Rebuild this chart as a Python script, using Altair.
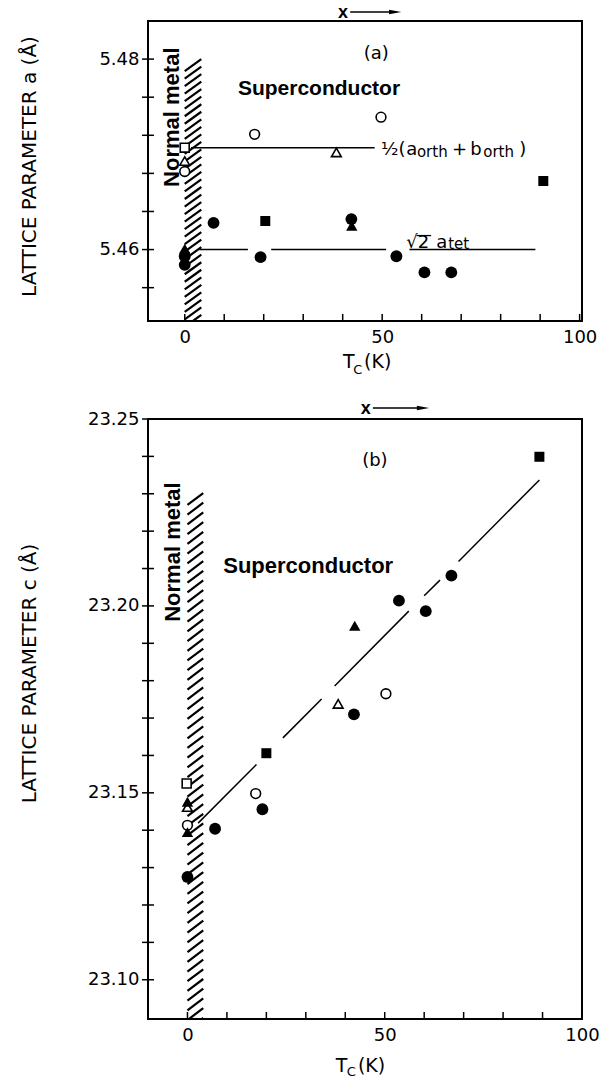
import altair as alt
import pandas as pd

FONT = "DejaVu Sans"
BOLD = "Liberation Sans"

# ---------------- Panel (a): lattice parameter a vs Tc ----------------
a_tc = [17.7, 49.7, 0.0, 38.4, 0.0, 0.0, 90.8, 7.3, 20.4, 42.3, 42.2, 19.2, 53.6, 60.7, 67.5, 0.0, 0.0, 0.0]
a_lat = [5.4721, 5.4739, 5.4707, 5.4702, 5.4693, 5.4682, 5.4672, 5.4628, 5.4630, 5.4625, 5.4632,
         5.4592, 5.4593, 5.4576, 5.4576, 5.4601, 5.4593, 5.4584]
a_marker = ["open circle", "open circle", "open square", "open triangle", "open triangle", "open circle",
            "filled square", "filled circle", "filled square", "filled triangle", "filled circle",
            "filled circle", "filled circle", "filled circle", "filled circle", "filled triangle",
            "filled circle", "filled circle"]
# reference lines (1/2(a_orth+b_orth) and sqrt2 a_tet), drawn as broken segments
a_seg_x1 = [1.6, 3.7, 21.9, 56.9]
a_seg_x2 = [48.1, 16.0, 51.0, 88.8]
a_seg_y1 = [5.4707, 5.4600, 5.4600, 5.4600]
a_seg_y2 = [5.4707, 5.4600, 5.4600, 5.4600]

# ---------------- Panel (b): lattice parameter c vs Tc ----------------
b_tc = [89.2, 66.9, 53.6, 60.4, 42.4, 50.3, 38.2, 42.2, 20.0, -0.2, 17.3, 0.0, 0.0, 19.0, 0.0, 0.0, 7.0, 0.0]
b_lat = [23.2399, 23.2081, 23.2014, 23.1986, 23.1947, 23.1765, 23.1738, 23.1710, 23.1606, 23.1525,
         23.1498, 23.1476, 23.1462, 23.1456, 23.1413, 23.1395, 23.1404, 23.1275]
b_marker = ["filled square", "filled circle", "filled circle", "filled circle", "filled triangle",
            "open circle", "open triangle", "filled circle", "filled square", "open square",
            "open circle", "filled triangle", "open triangle", "filled circle", "open circle",
            "filled triangle", "filled circle", "filled circle"]
b_seg_x1 = [2.7, 24.2, 37.3, 60.0, 68.7]
b_seg_x2 = [17.5, 34.0, 56.1, 64.0, 89.2]
b_seg_y1 = [23.1419, 23.1647, 23.1786, 23.2027, 23.2119]
b_seg_y2 = [23.1576, 23.1751, 23.1986, 23.2069, 23.2337]

# ---------------- axes ----------------
x_tick_values = [0, 10, 20, 30, 40, 50, 60, 70, 80, 90, 100]
x_label_values = [0, 50, 100]
a_tick_values = [5.456, 5.460, 5.464, 5.468, 5.472, 5.476, 5.480]
a_label_values = [5.46, 5.48]
b_tick_values = [23.10, 23.11, 23.12, 23.13, 23.14, 23.15, 23.16, 23.17, 23.18, 23.19,
                 23.20, 23.21, 23.22, 23.23, 23.24, 23.25]
b_label_values = [23.10, 23.15, 23.20, 23.25]

# ---------------- annotations ----------------
a_main_text = ["½(", "a", "+", "b", ")", "√2", "a"]
a_main_x = [49.7, 56.1, 67.7, 72.3, 84.7, 56.1, 63.7]
a_main_y = [5.46995, 5.46995, 5.46995, 5.46995, 5.46995, 5.4602, 5.4602]
a_sub_text = ["orth", "orth", "tet"]
a_sub_x = [58.8, 75.6, 66.7]
a_sub_y = [5.46974, 5.46974, 5.46007]
a_bar = {"x1": [58.7], "x2": [62.4], "y": [5.46147]}

STYLES = [
    ("open circle", dict(shape="circle", filled=True, fill="white", stroke="black", strokeWidth=1.6, size=95, opacity=1)),
    ("open square", dict(shape="square", filled=True, fill="white", stroke="black", strokeWidth=1.6, size=80, opacity=1)),
    ("open triangle", dict(shape="triangle-up", filled=True, fill="white", stroke="black", strokeWidth=1.6, size=95, opacity=1)),
    ("filled triangle", dict(shape="triangle-up", filled=True, color="black", size=130, opacity=1)),
    ("filled square", dict(shape="square", filled=True, color="black", size=100, opacity=1)),
    ("filled circle", dict(shape="circle", filled=True, color="black", size=140, opacity=1)),
]

ARROW = "M-1,-0.35L1,0L-1,0.35Z"


def hatch(x0, x1, y_bottom, y_top, step, rise):
    rows = []
    y = y_top - rise
    while y > y_bottom - rise:
        rows.append({"hx": x0, "hy": y, "hx2": x1, "hy2": y + rise})
        y -= step
    return pd.DataFrame(rows)


def panel(cfg):
    W, H = cfg["W"], cfg["H"]
    xs = alt.Scale(domain=cfg["xdom"], nice=False, zero=False)
    ys = alt.Scale(domain=cfg["ydom"], nice=False, zero=False)

    x_axis = alt.Axis(values=x_label_values, format="d", ticks=False, tickSize=0, domain=False, grid=False,
                      labelFont=FONT, labelFontSize=18, labelPadding=7, labelColor="black",
                      labelFlush=False, title="")
    y_axis = alt.Axis(values=cfg["ylabels"], format=".2f", ticks=False, tickSize=0, domain=False, grid=False,
                      labelFont=FONT, labelFontSize=18, labelPadding=9, labelColor="black",
                      title=cfg["ytitle"], titleFont=FONT, titleFontSize=20, titleFontWeight="normal",
                      titleColor="black", titleAngle=270, titleX=-119, titleY=cfg["titleY"],
                      titleBaseline="middle", titleAlign="center")

    def X(f):
        return alt.X(f"{f}:Q", scale=xs, axis=x_axis)

    def Y(f):
        return alt.Y(f"{f}:Q", scale=ys, axis=y_axis)

    layers = []
    hd = hatch(*cfg["hatch"])
    layers.append(alt.Chart(hd).mark_rule(color="black", strokeWidth=2.2, clip=True).encode(
        x=X("hx"), y=Y("hy"), x2="hx2:Q", y2="hy2:Q"))
    layers.append(alt.Chart(pd.DataFrame({"v": cfg["yticks"]})).mark_rule(color="black", strokeWidth=1.5).encode(
        y=Y("v"), x=alt.value(-6), x2=alt.value(6)))
    layers.append(alt.Chart(pd.DataFrame({"t": x_tick_values})).mark_rule(color="black", strokeWidth=1.5).encode(
        x=X("t"), y=alt.value(H - 7), y2=alt.value(H)))
    seg = pd.DataFrame({"x1": cfg["sx1"], "x2": cfg["sx2"], "y1": cfg["sy1"], "y2": cfg["sy2"]})
    layers.append(alt.Chart(seg).mark_rule(color="black", strokeWidth=1.5).encode(
        x=X("x1"), y=Y("y1"), x2="x2:Q", y2="y2:Q"))

    pts = pd.DataFrame({"tc": cfg["tc"], "lat": cfg["lat"], "marker": cfg["marker"]})
    for name, style in STYLES:
        layers.append(alt.Chart(pts).transform_filter(alt.datum.marker == name).mark_point(**style).encode(
            x=X("tc"), y=Y("lat")))

    # panel letter, region labels
    layers.append(alt.Chart(pd.DataFrame({"x": [cfg["letter"][1]], "y": [cfg["letter"][2]], "t": [cfg["letter"][0]]}))
                  .mark_text(font=FONT, fontSize=18, color="black", align="center", baseline="middle")
                  .encode(x=X("x"), y=Y("y"), text="t:N"))
    layers.append(alt.Chart(pd.DataFrame({"x": [cfg["sc"][0]], "y": [cfg["sc"][1]], "t": ["Superconductor"]}))
                  .mark_text(font=BOLD, fontSize=cfg["scsize"], fontWeight="bold", color="black",
                             align="center", baseline="middle")
                  .encode(x=X("x"), y=Y("y"), text="t:N"))
    layers.append(alt.Chart(pd.DataFrame({"x": [cfg["nm"][0]], "y": [cfg["nm"][1]], "t": ["Normal metal"]}))
                  .mark_text(font=BOLD, fontSize=22, fontWeight="bold", color="black", angle=270,
                             align="center", baseline="middle")
                  .encode(x=X("x"), y=Y("y"), text="t:N"))

    # "x ->" above the frame
    xa = cfg["xarrow"]
    layers.append(alt.Chart(pd.DataFrame({"x": [xa[0]], "t": ["x"]}))
                  .mark_text(font=BOLD, fontSize=18, fontWeight="bold", color="black", align="center", baseline="middle")
                  .encode(x=X("x"), y=alt.value(xa[3] + 1), text="t:N"))
    layers.append(alt.Chart(pd.DataFrame({"x1": [xa[1]], "x2": [xa[2]]}))
                  .mark_rule(color="black", strokeWidth=1.5)
                  .encode(x=X("x1"), x2="x2:Q", y=alt.value(xa[3])))
    layers.append(alt.Chart(pd.DataFrame({"x": [xa[2]]}))
                  .mark_point(shape=ARROW, filled=True, color="black", size=150, opacity=1)
                  .encode(x=X("x"), y=alt.value(xa[3])))

    # x-axis title T_C(K)
    xt = cfg["xtitle"]
    layers.append(alt.Chart(pd.DataFrame({"x": [xt[0], xt[2]], "t": ["T", "(K)"]}))
                  .mark_text(font=FONT, fontSize=19, color="black", align="left", baseline="alphabetic")
                  .encode(x=X("x"), y=alt.value(xt[3]), text="t:N"))
    layers.append(alt.Chart(pd.DataFrame({"x": [xt[1]], "t": ["C"]}))
                  .mark_text(font=FONT, fontSize=13, color="black", align="left", baseline="alphabetic")
                  .encode(x=X("x"), y=alt.value(xt[4]), text="t:N"))

    if cfg.get("ann"):
        layers.append(alt.Chart(pd.DataFrame({"x": a_main_x, "y": a_main_y, "t": a_main_text}))
                      .mark_text(font=FONT, fontSize=18, color="black", align="left", baseline="alphabetic")
                      .encode(x=X("x"), y=Y("y"), text="t:N"))
        layers.append(alt.Chart(pd.DataFrame({"x": a_sub_x, "y": a_sub_y, "t": a_sub_text}))
                      .mark_text(font=FONT, fontSize=15, color="black", align="left", baseline="alphabetic")
                      .encode(x=X("x"), y=Y("y"), text="t:N"))
        layers.append(alt.Chart(pd.DataFrame(a_bar)).mark_rule(color="black", strokeWidth=1.3)
                      .encode(x=X("x1"), x2="x2:Q", y=Y("y")))

    return alt.layer(*layers).properties(width=W, height=H)


cfg_a = dict(W=434, H=300, xdom=[-9.3, 100.6], ydom=[5.4525, 5.4840],
             yticks=a_tick_values, ylabels=a_label_values, ytitle="LATTICE PARAMETER a (Å)", titleY=145,
             hatch=(0.0, 4.2, 5.4525, 5.4800, 0.00079, 0.00126),
             sx1=a_seg_x1, sx2=a_seg_x2, sy1=a_seg_y1, sy2=a_seg_y2,
             tc=a_tc, lat=a_lat, marker=a_marker,
             letter=("(a)", 48.5, 5.4805), sc=(34.0, 5.4769), scsize=21, nm=(-3.2, 5.4739),
             xarrow=(40.1, 41.9, 53.3, -9), xtitle=(40.1, 42.7, 45.4, 347, 353), ann=True)

cfg_b = dict(W=434, H=600, xdom=[-10.0, 100.0], ydom=[23.0895, 23.25],
             yticks=b_tick_values, ylabels=b_label_values, ytitle="LATTICE PARAMETER c (Å)", titleY=254,
             hatch=(0.0, 4.0, 23.0895, 23.2302, 0.0026, 0.0032),
             sx1=b_seg_x1, sx2=b_seg_x2, sy1=b_seg_y1, sy2=b_seg_y2,
             tc=b_tc, lat=b_lat, marker=b_marker,
             letter=("(b)", 47.5, 23.2388), sc=(30.6, 23.2107), scsize=22, nm=(-3.6, 23.2144),
             xarrow=(45.2, 47.0, 59.7, -11), xtitle=(37.6, 40.4, 43.2, 653, 657), ann=False)

chart = alt.vconcat(panel(cfg_a), panel(cfg_b), spacing=98, bounds="flush").properties(
    padding={"left": 18, "top": 3, "right": 5, "bottom": 0}, background="white"
).configure_view(stroke="black", strokeWidth=2)

chart.save("out.html", embed_options={"renderer": "svg", "actions": False})
